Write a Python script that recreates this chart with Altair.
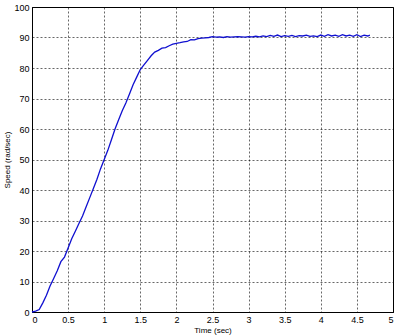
import altair as alt
import pandas as pd

t = [0.00, 0.05, 0.10, 0.15, 0.20, 0.25, 0.30, 0.35, 0.40, 0.45,
     0.50, 0.55, 0.60, 0.65, 0.70, 0.75, 0.80, 0.85, 0.90, 0.95,
     1.00, 1.05, 1.10, 1.15, 1.20, 1.25, 1.30, 1.35, 1.40, 1.45,
     1.50, 1.55, 1.60, 1.65, 1.70, 1.75, 1.80, 1.85, 1.90, 1.95,
     2.00, 2.05, 2.10, 2.15, 2.20, 2.25, 2.30, 2.35, 2.40, 2.45,
     2.50, 2.55, 2.60, 2.65, 2.70, 2.75, 2.80, 2.85, 2.90, 2.95,
     3.00, 3.05, 3.10, 3.15, 3.20, 3.25, 3.30, 3.35, 3.40, 3.45,
     3.50, 3.55, 3.60, 3.65, 3.70, 3.75, 3.80, 3.85, 3.90, 3.95,
     4.00, 4.05, 4.10, 4.15, 4.20, 4.25, 4.30, 4.35, 4.40, 4.45,
     4.50, 4.55, 4.60, 4.65, 4.68]
speed = [0.0, 0.3, 0.8, 3.0, 5.5, 8.5, 11.0, 13.5, 16.5, 18.0,
         21.0, 24.0, 26.5, 29.0, 31.5, 34.5, 37.5, 40.5, 43.5, 47.0,
         50.0, 53.0, 56.5, 60.0, 63.0, 66.0, 68.5, 71.5, 74.5, 77.0,
         79.5, 81.0, 82.5, 84.0, 85.2, 85.8, 86.5, 86.7, 87.3, 87.8,
         88.1, 88.3, 88.6, 88.7, 89.3, 89.2, 89.6, 89.8, 89.9, 90.0,
         90.3, 90.1, 90.2, 90.0, 90.3, 90.1, 90.2, 90.3, 90.2, 90.1,
         90.3, 90.2, 90.4, 90.2, 90.5, 90.3, 90.7, 90.4, 90.8, 90.3,
         90.6, 90.4, 90.7, 90.3, 90.6, 90.5, 90.8, 90.4, 90.5, 90.3,
         90.8, 90.4, 90.9, 90.5, 90.8, 90.4, 90.9, 90.5, 90.8, 90.4,
         90.9, 90.3, 90.8, 90.5, 90.8]

df = pd.DataFrame({"t": t, "speed": speed})

font = "Liberation Sans"

chart = alt.Chart(df).mark_line(color="#1010d0", strokeWidth=1.3).encode(
    x=alt.X("t:Q", scale=alt.Scale(domain=[0, 5], nice=False),
            axis=alt.Axis(title="Time (sec)", values=[0, 0.5, 1, 1.5, 2, 2.5, 3, 3.5, 4, 4.5, 5],
                          labelExpr="datum.value", grid=True)),
    y=alt.Y("speed:Q", scale=alt.Scale(domain=[0, 100], nice=False),
            axis=alt.Axis(title="Speed (rad/sec)", values=list(range(0, 101, 10)), grid=True)),
).properties(
    width=361, height=305,
    autosize=alt.AutoSizeParams(type="none"),
    padding={"left": 32, "top": 7, "right": 4, "bottom": 24},
).configure_view(
    stroke="black", strokeWidth=1
).configure_axis(
    domainColor="black", domainWidth=1,
    gridColor="black", gridDash=[2, 2], gridOpacity=0.75, gridWidth=0.8,
    ticks=False,
    labelFont=font, labelFontSize=9, labelColor="black", labelPadding=3,
    titleFont=font, titleFontSize=8, titleColor="black", titleFontWeight="normal",
).configure_axisY(titlePadding=2).configure_axisX(titlePadding=2)

chart.save("out.html", embed_options={"renderer": "svg", "actions": False})
